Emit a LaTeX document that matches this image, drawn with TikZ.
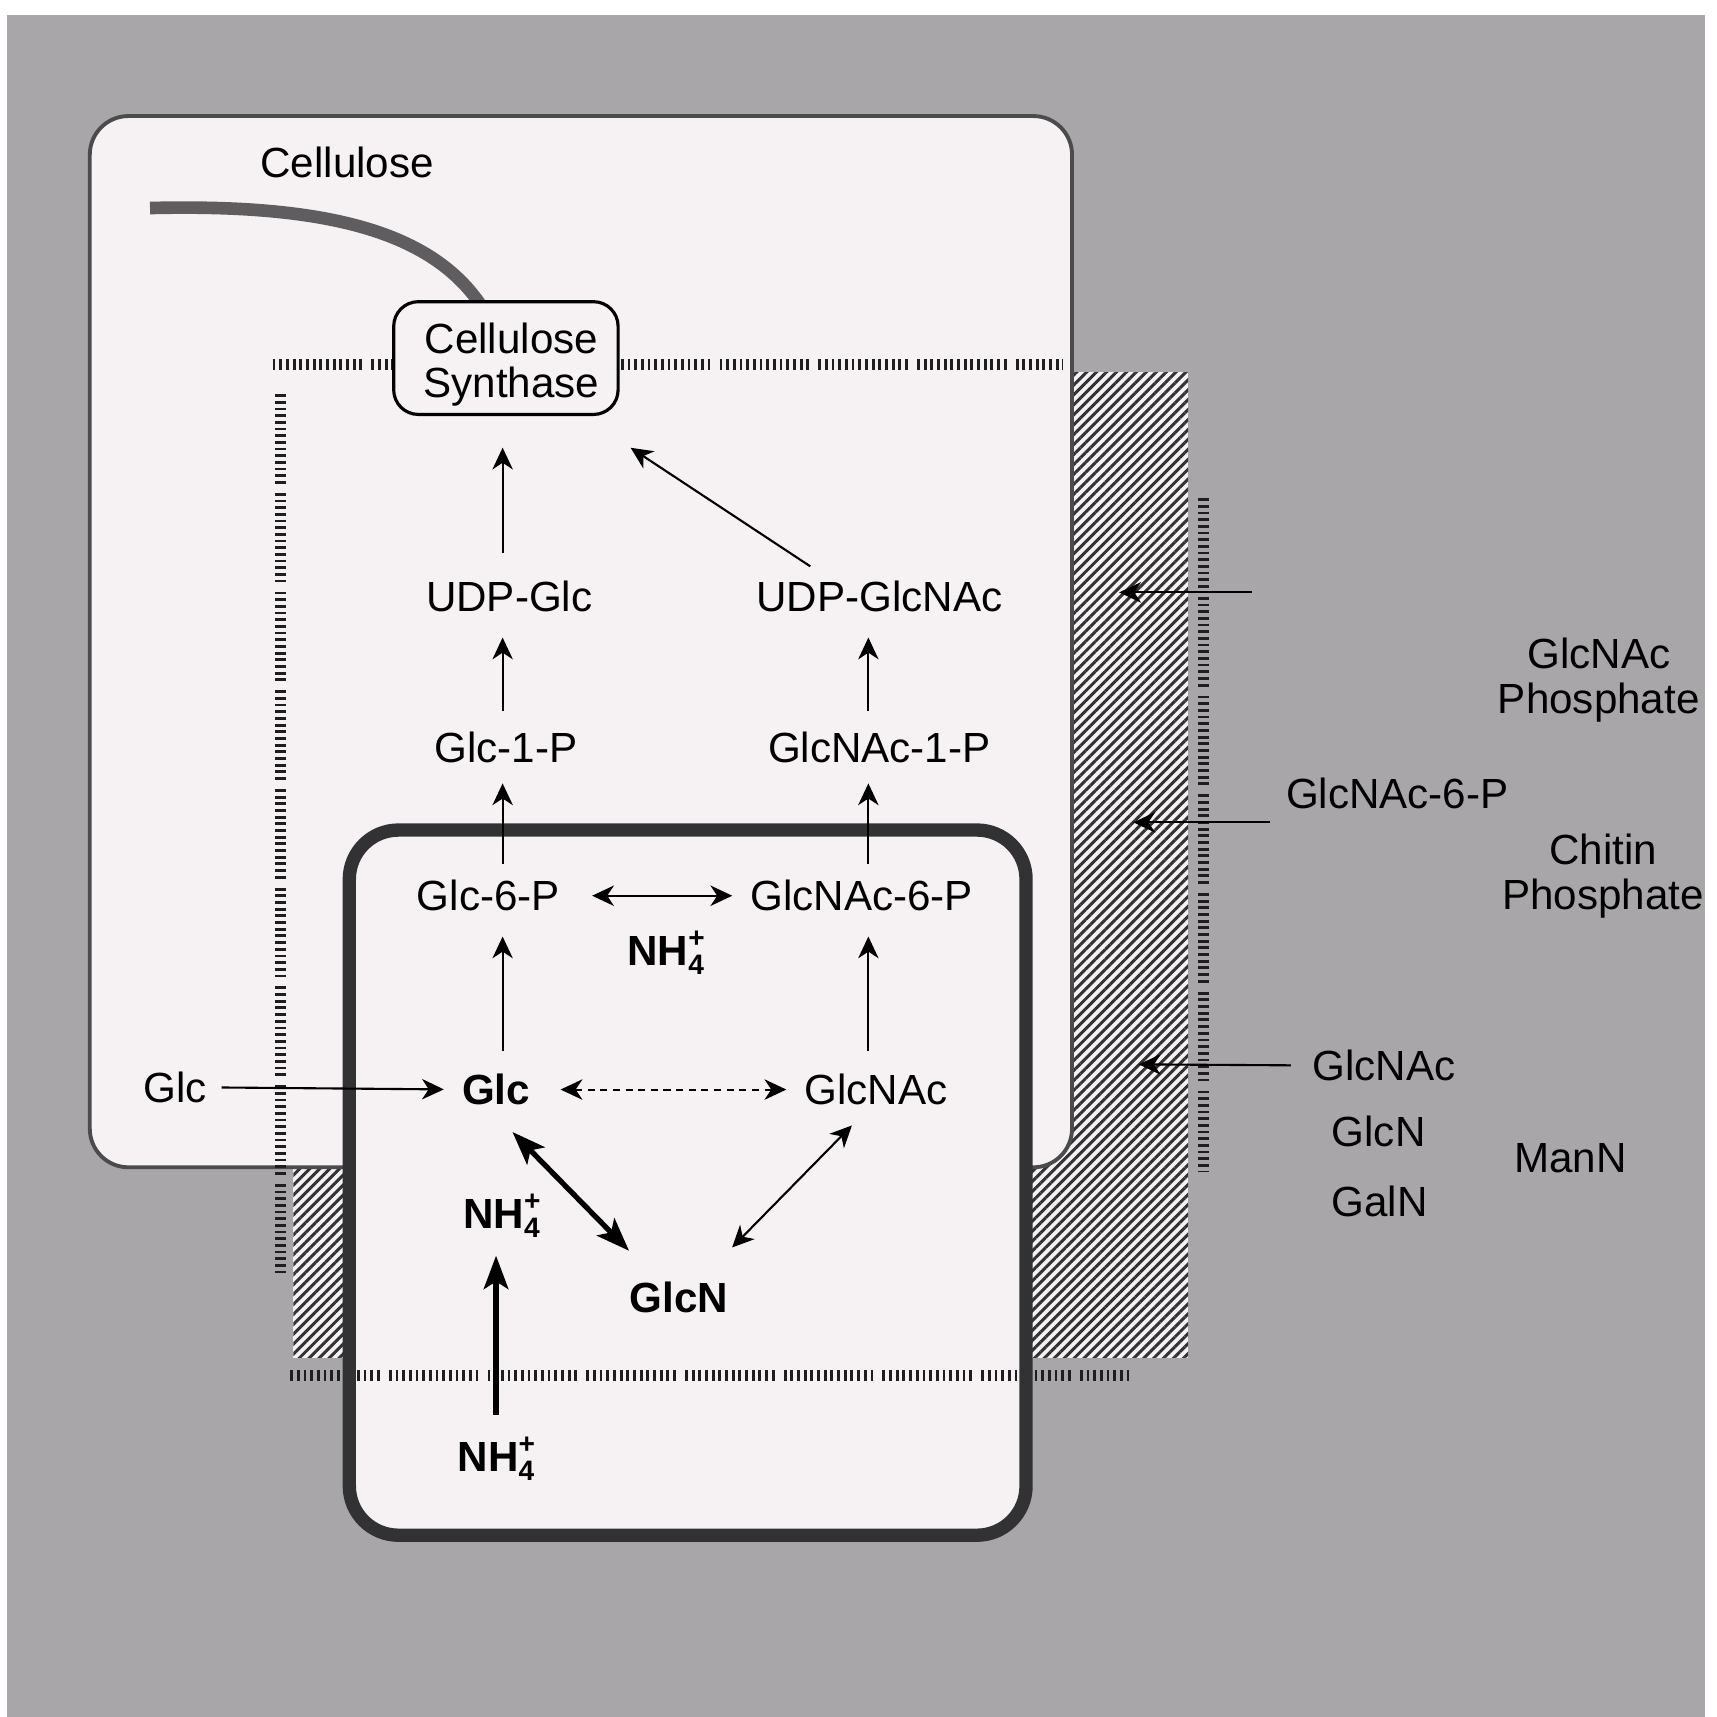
\documentclass[tikz,border=0pt]{standalone}
\usepackage{fontspec}
\setmainfont{Liberation Sans}
\usetikzlibrary{arrows.meta,patterns.meta,calc}
\definecolor{bggray}{RGB}{168,166,169}
\definecolor{cellfill}{RGB}{246,242,244}
\definecolor{hatchline}{RGB}{50,50,52}
\definecolor{walldark}{RGB}{50,50,52}
\definecolor{fibergray}{RGB}{95,93,96}
\definecolor{edgegray}{RGB}{75,75,77}
\definecolor{memcol}{RGB}{30,30,32}
\newcommand{\ammon}{NH\rlap{\raisebox{5.2pt}{\fontsize{8}{8}\selectfont +}}\raisebox{-2.6pt}{\fontsize{8}{8}\selectfont 4}}
\begin{document}
\begin{tikzpicture}[x=0.01095cm,y=-0.01095cm,
  lbl/.style={font=\fontsize{12}{12.8}\selectfont, inner sep=0pt, align=center},
  blbl/.style={lbl, font=\fontsize{12}{12.8}\selectfont\bfseries},
  arr/.style={-{Stealth[length=6.2pt,width=5.8pt,inset=1.9pt]}, line width=0.6pt},
  darr/.style={{Stealth[length=6.2pt,width=5.8pt,inset=1.9pt]}-{Stealth[length=6.2pt,width=5.8pt,inset=1.9pt]}, line width=0.6pt},
  tarr/.style={{Stealth[length=9.5pt,width=7pt,inset=2.2pt]}-{Stealth[length=9.5pt,width=7pt,inset=2.2pt]}, line width=1.5pt},
  barr/.style={-{Stealth[length=9.5pt,width=7pt,inset=2.2pt]}, line width=1.5pt},
  mem/.style={line width=3.2pt, draw=memcol, dash pattern=on .8pt off 1.1pt on .8pt off 1.1pt on .8pt off 1.1pt on .8pt off 1.1pt on .8pt off 1.1pt on .8pt off 1.1pt on .8pt off 1.1pt on .8pt off 1.1pt on .8pt off 1.1pt on .8pt off 1.1pt on .8pt off 1.1pt on .8pt off 1.1pt on .8pt off 1.1pt on .8pt off 2.6pt},
  fiber/.style={line width=3.6pt, draw=fibergray},
  cellbox/.style={draw=edgegray, line width=1.1pt, fill=cellfill, rounded corners=11pt},
  wallbox/.style={draw=walldark, line width=3.8pt, rounded corners=14pt},
  synbox/.style={draw, line width=0.9pt, rounded corners=7pt, fill=cellfill, minimum width=2.245cm, minimum height=1.128cm, inner sep=0pt}
]
\useasboundingbox (0,0) rectangle (1568,1568);
% background
\fill[white] (0,0) rectangle (1568,1568);
\fill[bggray] (6,14) rectangle (1557,1568);
% cell wall hatch
\fill[cellfill] (268,340) rectangle (1085,1240);
\fill[pattern={Lines[angle=45,distance=2pt,line width=0.85pt]}, pattern color=hatchline] (268,340) rectangle (1085,1240);
% upper cell
\draw[cellbox] (82,106) rectangle (979,1066);
% membranes
\draw[mem] (249,333) -- (358,333);
\draw[mem] (567,333) -- (971,333);
\draw[mem] (256,360) -- (256,1170);
\draw[mem] (1099,455) -- (1099,1070);
% lower cell
\fill[cellfill, rounded corners=14pt] (319,758) rectangle (937,1402);
\draw[mem] (265,1256) -- (1032,1256);
\draw[wallbox] (319,758) rectangle (937,1402);
% cellulose fibre
\node[lbl] (cel) at (317,148) {Cellulose};
\coordinate (fibA) at (137,190);
\coordinate (fibB) at (440,280);
\draw[fiber] (fibA) .. controls (300,186) and (395,212) .. (fibB);
\node[synbox] (cs) at (462,327) {};
\node[lbl, font=\fontsize{12}{12.4}\selectfont] (cstext) at (467,333) {Cellulose\\Synthase};
% labels
\node[lbl] (udpglc) at (465,545) {UDP-Glc};
\node[lbl] (udpglcnac) at (803,545) {UDP-GlcNAc};
\node[lbl] (glc1p) at (462,683) {Glc-1-P};
\node[lbl] (glcnac1p) at (803,683) {GlcNAc-1-P};
\node[lbl] (glc6p) at (446,818) {Glc-6-P};
\node[lbl] (glcnac6p) at (787,818) {GlcNAc-6-P};
\node[blbl] (nh4a) at (608,870) {\ammon};
\node[lbl] (glcext) at (160,993) {Glc};
\node[blbl] (glc) at (453,995) {Glc};
\node[lbl] (glcnac) at (800,995) {GlcNAc};
\node[blbl] (nh4b) at (458,1110) {\ammon};
\node[blbl] (glcn) at (620,1185) {GlcN};
\node[blbl] (nh4c) at (453,1332) {\ammon};
\node[lbl, font=\fontsize{12}{13}\selectfont] (glcnacp) at (1460,621) {GlcNAc\\Phosphate};
\node[lbl] (glcnac6pext) at (1276,725) {GlcNAc-6-P};
\node[lbl, font=\fontsize{12}{13}\selectfont] (chitinp) at (1464,800) {Chitin\\Phosphate};
\node[lbl] (glcnacext) at (1264,973) {GlcNAc};
\node[lbl] (glcnext) at (1259,1033) {GlcN};
\node[lbl] (galnext) at (1260,1097) {GalN};
\node[lbl] (mannext) at (1434,1058) {ManN};
% column guides
\coordinate (colL) at (459,0);
\coordinate (colR) at (793,0);
\coordinate (colN) at (453,0);
% vertical arrows
\draw[arr, shorten <=8pt, shorten >=9pt] (udpglc.north -| colL) -- (cs.south -| colL);
\draw[arr] ($(udpglcnac.north)+(-63,-13)$) -- ($(cs.south east)+(10,29)$);
\draw[arr, shorten <=6pt, shorten >=7pt] (glc1p.north -| colL) -- (udpglc.south -| colL);
\draw[arr, shorten <=6pt, shorten >=7pt] (glcnac1p.north -| colR) -- (udpglcnac.south -| colR);
\draw[arr, shorten <=4.5pt, shorten >=5.5pt] (glc6p.north -| colL) -- (glc1p.south -| colL);
\draw[arr, shorten <=4.5pt, shorten >=5.5pt] (glcnac6p.north -| colR) -- (glcnac1p.south -| colR);
\draw[arr, shorten <=6.5pt, shorten >=7pt] (glc.north -| colL) -- (glc6p.south -| colL);
\draw[arr, shorten <=6.5pt, shorten >=7pt] (glcnac.north -| colR) -- (glcnac6p.south -| colR);
% horizontal arrows
\draw[darr, shorten <=9pt, shorten >=5pt] (glc6p.east) -- (glcnac6p.west);
\draw[arr, shorten <=4pt, shorten >=5pt] (glcext.east) -- (glc.west);
\draw[darr, dash pattern=on 2pt off 1.6pt, shorten <=8.5pt, shorten >=5pt] (glc.east) -- (glcnac.west);
% diagonal arrows
\draw[tarr] ($(glc.south)+(15,24)$) -- ($(glcn.north west)+(0,-28)$);
\draw[darr] ($(glcnac.south)+(-22,18)$) -- ($(glcn.north east)+(3,-31)$);
\draw[barr, shorten <=6pt, shorten >=5pt] (nh4c.north -| colN) -- (nh4b.south -| colN);
% uptake arrows
\coordinate (r1) at (1143,541);
\coordinate (r1e) at (1022,541);
\coordinate (r2) at (1160,751);
\coordinate (r2e) at (1035,751);
\coordinate (r3e) at (1040,972);
\draw[arr] (r1) -- (r1e);
\draw[arr] (r2) -- (r2e);
\draw[arr, shorten <=6pt] (glcnacext.west) -- (r3e);
\end{tikzpicture}
\end{document}
